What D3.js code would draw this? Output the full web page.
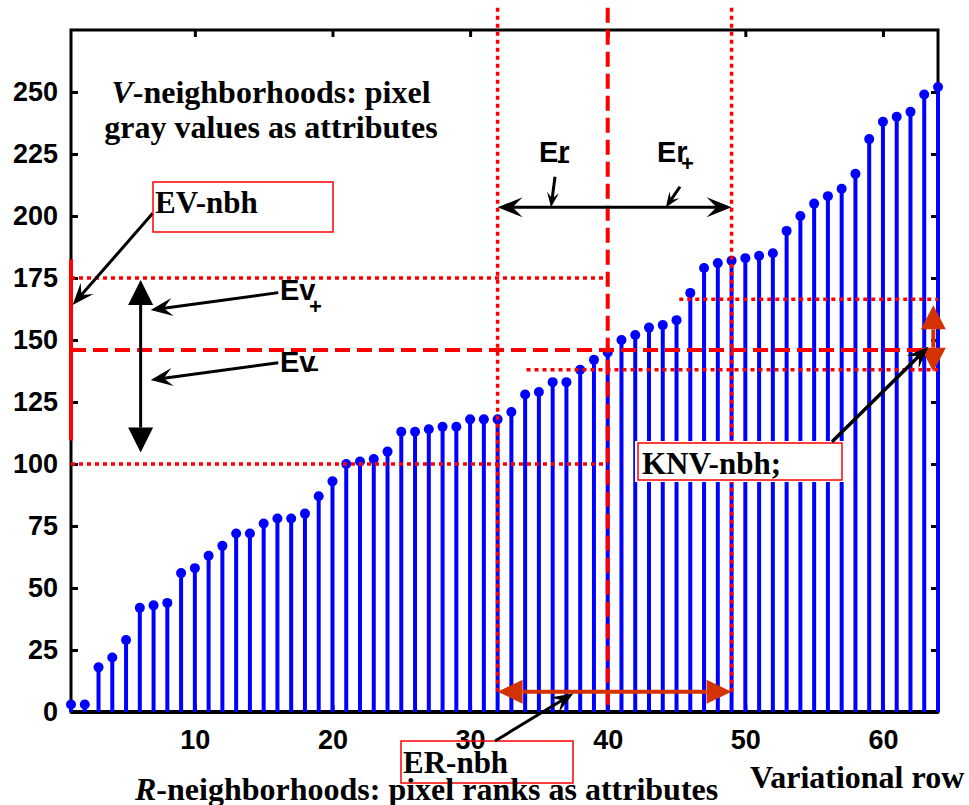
<!DOCTYPE html>
<html>
<head>
<meta charset="utf-8">
<script src="https://cdn.jsdelivr.net/npm/d3@7"></script>
<style>
  body { margin: 0; background: #fff; }
</style>
</head>
<body>
<script>
// pixel rank in the variational row and its gray value
const rank = [1, 2, 3, 4, 5, 6, 7, 8, 9, 10, 11, 12, 13, 14, 15, 16,
  17, 18, 19, 20, 21, 22, 23, 24, 25, 26, 27, 28, 29, 30, 31, 32,
  33, 34, 35, 36, 37, 38, 39, 40, 41, 42, 43, 44, 45, 46, 47, 48,
  49, 50, 51, 52, 53, 54, 55, 56, 57, 58, 59, 60, 61, 62, 63, 64];
const gray = [3, 3, 18, 22, 29, 42, 43, 44, 56, 58, 63, 67, 72, 72, 76, 78,
  78, 80, 87, 93, 100, 101, 102, 105, 113, 113, 114, 115, 115, 118, 118, 118,
  121, 128, 129, 133, 133, 138, 142, 145, 150, 152, 155, 156, 158, 169, 179, 181,
  182, 183, 184, 185, 194, 200, 205, 208, 211, 217, 231, 238, 240, 242, 249, 252];

const yTicks = [0, 25, 50, 75, 100, 125, 150, 175, 200, 225, 250];
const xTicks = [10, 20, 30, 40, 50, 60];

// neighbourhood levels
const grayCenter = 146, grayLow = 100, grayHigh = 175;
const evLow = 109.5, evHigh = 182.5;
const knnLow = 138, knnHigh = 166.4;
const rankCenter = 40, rankLow = 32, rankHigh = 49;

const width = 969, height = 805;
const plotLeft = 71, plotRight = 938, plotTop = 30, plotBottom = 712;

const sans = "'Liberation Sans', Arial, sans-serif";
const serif = "'Liberation Serif', 'Times New Roman', serif";
const red = "#ff0000";
const orange = "#d33300";
const black = "#000";

const x = d3.scaleLinear().domain([1, 64]).range([plotLeft, plotRight]);
const y = d3.scaleLinear().domain([0, 275]).range([plotBottom, plotTop]);
const P = (i, v) => [x(i), y(v)];

const svg = d3.select("body")
  .append("svg")
  .attr("width", width)
  .attr("height", height);

svg.append("rect").attr("width", width).attr("height", height).attr("fill", "white");

// axes (ticks point inward, box all round)
const axes = svg.append("g");
axes.append("g").attr("transform", `translate(${plotLeft},0)`)
  .call(d3.axisLeft(y).tickValues(yTicks).tickSizeInner(-7).tickSizeOuter(0).tickPadding(13));
axes.append("g").attr("transform", `translate(${plotRight},0)`)
  .call(d3.axisRight(y).tickValues(yTicks).tickSizeInner(-7).tickSizeOuter(0).tickFormat(""));
axes.append("g").attr("transform", `translate(0,${plotBottom})`)
  .call(d3.axisBottom(x).tickValues(xTicks).tickSizeInner(-7).tickSizeOuter(0).tickPadding(18));
axes.append("g").attr("transform", `translate(0,${plotTop})`)
  .call(d3.axisTop(x).tickValues(xTicks).tickSizeInner(-7).tickSizeOuter(0).tickFormat(""));
axes.selectAll(".domain").remove();
axes.selectAll(".tick line").attr("stroke", black).attr("stroke-width", 3);
axes.selectAll(".tick text")
  .attr("font-family", sans)
  .attr("font-weight", "bold")
  .attr("font-size", 27)
  .attr("fill", black);

svg.append("rect")
  .attr("x", plotLeft).attr("y", plotTop)
  .attr("width", plotRight - plotLeft).attr("height", plotBottom - plotTop)
  .attr("fill", "none").attr("stroke", black).attr("stroke-width", 3);
svg.append("line")
  .attr("x1", plotLeft).attr("x2", plotRight).attr("y1", plotBottom).attr("y2", plotBottom)
  .attr("stroke", black).attr("stroke-width", 4);

// stems
const stems = svg.append("g");
stems.selectAll("line")
  .data(rank)
  .join("line")
  .attr("x1", d => x(d)).attr("x2", d => x(d))
  .attr("y1", y(0)).attr("y2", (d, i) => y(gray[i]))
  .attr("stroke", "#0000ff").attr("stroke-width", 4);
stems.selectAll("circle")
  .data(rank)
  .join("circle")
  .attr("cx", d => x(d)).attr("cy", (d, i) => y(gray[i]))
  .attr("r", 5)
  .attr("fill", "#0000ff");

// red reference lines
const refs = svg.append("g");
function refLine(p1, p2, dash, w) {
  refs.append("line")
    .attr("x1", p1[0]).attr("y1", p1[1]).attr("x2", p2[0]).attr("y2", p2[1])
    .attr("stroke", red).attr("stroke-width", w)
    .attr("stroke-dasharray", dash);
}
const dotted = "4,4", dashed = "15,7";
refLine(P(1, grayHigh), P(rankCenter, grayHigh), dotted, 3.5);
refLine(P(1, grayLow), P(rankCenter, grayLow), dotted, 3.5);
refLine(P(1, grayCenter), P(64, grayCenter), dashed, 4);
refLine(P(34.1, knnLow), P(64, knnLow), dotted, 3.5);
refLine(P(45.2, knnHigh), P(64, knnHigh), dotted, 3.5);
refLine(P(rankLow, 284), P(rankLow, 8), dotted, 3.5);
refLine(P(rankHigh, 284), P(rankHigh, 8), dotted, 3.5);
refLine(P(rankCenter, 284), P(rankCenter, 0), dashed, 4);

// EV-nbh span on the value axis
refs.append("line")
  .attr("x1", x(1)).attr("x2", x(1)).attr("y1", y(evLow)).attr("y2", y(evHigh))
  .attr("stroke", red).attr("stroke-width", 4);

// arrows
const ann = svg.append("g");
function arrow(p1, p2, o) {
  const dx = p2[0] - p1[0], dy = p2[1] - p1[1];
  const len = Math.hypot(dx, dy), ux = dx / len, uy = dy / len;
  const inset = o.shape === "tri" ? o.L : o.L * 0.6;
  const a = o.start ? [p1[0] + ux * inset, p1[1] + uy * inset] : p1;
  const b = o.end ? [p2[0] - ux * inset, p2[1] - uy * inset] : p2;
  ann.append("line")
    .attr("x1", a[0]).attr("y1", a[1]).attr("x2", b[0]).attr("y2", b[1])
    .attr("stroke", o.color).attr("stroke-width", o.width);
  const head = o.shape === "tri"
    ? [[0, 0], [-o.L, -o.W / 2], [-o.L, o.W / 2]]
    : [[0, 0], [-o.L, -o.W / 2], [-o.L * 0.6, 0], [-o.L, o.W / 2]];
  const ang = Math.atan2(dy, dx) * 180 / Math.PI;
  if (o.end) {
    ann.append("polygon").attr("points", head.join(" "))
      .attr("transform", `translate(${p2[0]},${p2[1]}) rotate(${ang})`)
      .attr("fill", o.color);
  }
  if (o.start) {
    ann.append("polygon").attr("points", head.join(" "))
      .attr("transform", `translate(${p1[0]},${p1[1]}) rotate(${ang + 180})`)
      .attr("fill", o.color);
  }
}

arrow(P(6.06, 104.6), P(6.06, 174.2), { color: black, width: 3, L: 25, W: 25, shape: "tri", start: true, end: true });
arrow(P(16.06, 169.1), P(6.79, 162.1), { color: black, width: 3, L: 22, W: 18, shape: "vback", end: true });
arrow(P(16.06, 140.8), P(6.79, 133.9), { color: black, width: 3, L: 22, W: 18, shape: "vback", end: true });
arrow(P(6.94, 201.1), P(1.12, 164.1), { color: black, width: 3, L: 22, W: 17, shape: "vback", end: true });

arrow(P(rankLow, 203.5), P(rankHigh, 203.5), { color: black, width: 3, L: 25, W: 20, shape: "vback", start: true, end: true });
arrow(P(36.17, 215.8), P(35.88, 203.5), { color: black, width: 3, L: 15, W: 12, shape: "vback", end: true });
arrow(P(45.25, 211.8), P(44.23, 203.5), { color: black, width: 3, L: 15, W: 12, shape: "vback", end: true });

arrow(P(rankLow, 8.2), P(rankHigh, 8.2), { color: orange, width: 4, L: 25, W: 24, shape: "tri", start: true, end: true });
arrow(P(63.66, 137.2), P(63.66, 164), { color: orange, width: 4, L: 24, W: 25, shape: "tri", start: true, end: true });

// boxes with labels
function box(x0, y0, w, h, label, tx, ty, fill) {
  if (fill) {
    ann.append("rect").attr("x", x0 - 3).attr("y", y0 - 2).attr("width", w + 6).attr("height", h + 4).attr("fill", "white");
  }
  ann.append("rect").attr("x", x0).attr("y", y0).attr("width", w).attr("height", h)
    .attr("fill", "none").attr("stroke", red).attr("stroke-width", 1.5);
  ann.append("text").attr("x", tx).attr("y", ty)
    .attr("font-family", serif).attr("font-weight", "bold").attr("font-size", 31)
    .text(label);
}
box(153, 182, 180, 50, "EV-nbh", 155, 213, false);
box(401, 741, 172, 42, "ER-nbh", 403, 773, false);
box(638, 443, 204, 37, "KNV-nbh;", 642, 474, true);

arrow(P(31.81, -11.7), P(37.5, 7.5), { color: black, width: 3, L: 22, W: 17, shape: "vback", end: true });
arrow(P(56.3, 109), P(63.3, 147.3), { color: black, width: 3.5, L: 22, W: 17, shape: "vback", end: true });

// E labels with subscripts
function eLabel(tx, ty, main, sub, sx, sy) {
  ann.append("text").attr("x", tx).attr("y", ty)
    .attr("font-family", sans).attr("font-weight", "bold").attr("font-size", 29)
    .text(main);
  ann.append("text").attr("x", sx).attr("y", sy)
    .attr("font-family", sans).attr("font-weight", "bold").attr("font-size", 22)
    .text(sub);
}
eLabel(280, 300, "Ev", "+", 309, 314);
eLabel(280, 372, "Ev", "\u2212", 306, 377);
eLabel(539, 162, "Er", "\u2212", 557, 169);
eLabel(657, 162, "Er", "+", 681, 171);

// free text
function serifText(tx, ty, italicPart, rest, anchor) {
  const t = svg.append("text").attr("x", tx).attr("y", ty)
    .attr("font-family", serif).attr("font-weight", "bold").attr("font-size", 32)
    .attr("text-anchor", anchor || "start");
  if (italicPart) t.append("tspan").attr("font-style", "italic").text(italicPart);
  t.append("tspan").text(rest);
}
serifText(271, 103, "V", "-neighborhoods: pixel", "middle");
serifText(271, 138, null, "gray values as attributes", "middle");
serifText(135, 800, "R", "-neighborhoods: pixel ranks as attributes");
serifText(750, 788, null, "Variational row");
</script>
</body>
</html>
